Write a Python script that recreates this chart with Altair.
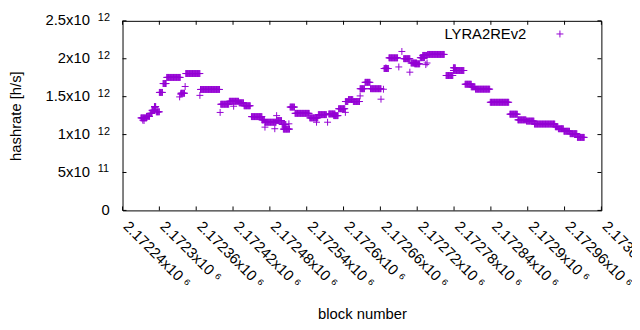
import altair as alt
import pandas as pd

# ---- data ----
# runs of consecutive blocks with the same hashrate (TH/s = 1e12 h/s)
run_start = [2172270, 2172279, 2172285, 2172288, 2172292, 2172295, 2172300, 2172306, 2172312,
             2172335, 2172343, 2172367, 2172400, 2172414, 2172430, 2172438, 2172450, 2172467,
             2172472, 2172491, 2172500, 2172502, 2172513, 2172521, 2172545, 2172559, 2172576,
             2172584, 2172592, 2172603, 2172608, 2172616, 2172627, 2172635, 2172644, 2172666,
             2172674, 2172698, 2172710, 2172716, 2172725, 2172729, 2172737, 2172767, 2172779,
             2172779, 2172798, 2172808, 2172815, 2172839, 2172871, 2172884, 2172898, 2172911,
             2172945, 2172950, 2172959, 2172969, 2172981]
run_end = [2172279, 2172284, 2172288, 2172292, 2172294, 2172300, 2172305, 2172311, 2172334,
           2172341, 2172366, 2172398, 2172413, 2172429, 2172437, 2172448, 2172467, 2172471,
           2172490, 2172499, 2172506, 2172512, 2172520, 2172544, 2172558, 2172572, 2172586,
           2172591, 2172602, 2172607, 2172615, 2172626, 2172634, 2172643, 2172661, 2172673,
           2172688, 2172708, 2172719, 2172724, 2172732, 2172736, 2172764, 2172778, 2172796,
           2172782, 2172808, 2172814, 2172838, 2172869, 2172883, 2172897, 2172910, 2172944,
           2172949, 2172958, 2172968, 2172980, 2172992]
run_value = [1.22, 1.24, 1.28, 1.32, 1.37, 1.30, 1.556, 1.673, 1.754,
             1.545, 1.805, 1.595, 1.400, 1.439, 1.419, 1.380, 1.237, 1.194,
             1.163, 1.185, 1.133, 1.072, 1.363, 1.280, 1.220, 1.263, 1.272,
             1.250, 1.341, 1.436, 1.462, 1.436, 1.605, 1.689, 1.605, 1.871,
             2.012, 2.001, 1.944, 1.933, 2.014, 2.044, 2.057, 1.779, 1.845,
             1.881, 1.664, 1.630, 1.599, 1.426, 1.269, 1.194, 1.178, 1.139,
             1.103, 1.077, 1.044, 1.012, 0.963]

# isolated blocks
single_block = [2172273, 2172275, 2172293, 2172333, 2172335, 2172342, 2172366, 2172399,
                2172421, 2172472, 2172488, 2172491, 2172511, 2172556, 2172574, 2172603,
                2172627, 2172661, 2172665, 2172669, 2172690, 2172695, 2172708, 2172734,
                2172736]
single_value = [1.19, 1.185, 1.358, 1.497, 1.532, 1.634, 1.517, 1.292,
                1.374, 1.098, 1.077, 1.250, 1.142, 1.163, 1.163, 1.293,
                1.510, 1.467, 1.598, 1.88, 1.892, 2.096, 1.823, 1.923,
                1.944]

x_tick_values = [2172240, 2172300, 2172360, 2172420, 2172480, 2172540, 2172600,
                 2172660, 2172720, 2172780, 2172840, 2172900, 2172960, 2173020]
x_tick_labels = ["2.17224x10 \u2076", "2.1723x10 \u2076", "2.17236x10 \u2076", "2.17242x10 \u2076",
                 "2.17248x10 \u2076", "2.17254x10 \u2076", "2.1726x10 \u2076", "2.17266x10 \u2076",
                 "2.17272x10 \u2076", "2.17278x10 \u2076", "2.17284x10 \u2076", "2.1729x10 \u2076",
                 "2.17296x10 \u2076", "2.17302x10 \u2076"]
y_tick_values = [0, 5e11, 1e12, 1.5e12, 2e12, 2.5e12]
y_tick_mantissa = ["0", "5x10", "1x10", "1.5x10", "2x10", "2.5x10"]
y_tick_exponent = ["", "11", "12", "12", "12", "12"]

series_name = "LYRA2REv2"

# ---- build tables ----
rows = []
for s, e, v in zip(run_start, run_end, run_value):
    for b in range(s, e + 1):
        rows.append({"block": b, "hashrate": v * 1e12})
for b, v in zip(single_block, single_value):
    rows.append({"block": b, "hashrate": v * 1e12})
df = pd.DataFrame(rows)

xt = pd.DataFrame({"block": x_tick_values, "label": x_tick_labels})
yt = pd.DataFrame({"hashrate": y_tick_values, "mant": y_tick_mantissa, "exp": y_tick_exponent})

W, H = 485, 192
FONT = "Liberation Sans"
COLOR = "#9400d3"
PLUS = "M-1,0L1,0M0,-1L0,1"
TICK = 4

xscale = alt.Scale(domain=[x_tick_values[0], x_tick_values[-1]], nice=False, zero=False)
yscale = alt.Scale(domain=[y_tick_values[0], y_tick_values[-1]], nice=False, zero=False)

points = alt.Chart(df).mark_point(
    shape=PLUS, size=49, filled=False, stroke=COLOR, strokeWidth=1, opacity=1
).encode(
    x=alt.X("block:Q", scale=xscale, axis=alt.Axis(
        values=x_tick_values, labels=False, ticks=False, domain=False, grid=False,
        title="block number", titleY=109, titleBaseline="alphabetic")),
    y=alt.Y("hashrate:Q", scale=yscale, axis=alt.Axis(
        values=y_tick_values, labels=False, ticks=False, domain=False, grid=False,
        title="hashrate [h/s]", titleX=-108, titleY=H / 2, titleAngle=270,
        titleAlign="center", titleBaseline="middle")),
)

tick_style = dict(color="black", strokeWidth=1)
bottom_ticks = alt.Chart(xt).mark_rule(**tick_style).encode(
    x=alt.X("block:Q", scale=xscale), y=alt.value(H), y2=alt.value(H - TICK))
top_ticks = alt.Chart(xt).mark_rule(**tick_style).encode(
    x=alt.X("block:Q", scale=xscale), y=alt.value(0), y2=alt.value(TICK))
left_ticks = alt.Chart(yt).mark_rule(**tick_style).encode(
    y=alt.Y("hashrate:Q", scale=yscale), x=alt.value(0), x2=alt.value(TICK))
right_ticks = alt.Chart(yt).mark_rule(**tick_style).encode(
    y=alt.Y("hashrate:Q", scale=yscale), x=alt.value(W - TICK), x2=alt.value(W))

x_labels = alt.Chart(xt).mark_text(
    angle=45, align="left", baseline="alphabetic", fontSize=15, font=FONT, color="black"
).encode(x=alt.X("block:Q", scale=xscale), y=alt.value(H + 17), text="label:N")

y_mant = alt.Chart(yt).transform_filter("datum.exp != ''").mark_text(
    align="right", baseline="alphabetic", dy=4.3, fontSize=15, font=FONT, color="black"
).encode(y=alt.Y("hashrate:Q", scale=yscale), x=alt.value(-33), text="mant:N")
y_zero = alt.Chart(yt).transform_filter("datum.exp == ''").mark_text(
    align="right", baseline="alphabetic", dy=4.3, fontSize=15, font=FONT, color="black"
).encode(y=alt.Y("hashrate:Q", scale=yscale), x=alt.value(-13), text="mant:N")
y_exp = alt.Chart(yt).transform_filter("datum.exp != ''").mark_text(
    align="left", baseline="alphabetic", dy=0, fontSize=11, font=FONT, color="black"
).encode(y=alt.Y("hashrate:Q", scale=yscale), x=alt.value(-25), text="exp:N")

leg = pd.DataFrame({"name": [series_name]})
legend_text = alt.Chart(leg).mark_text(
    align="right", baseline="alphabetic", fontSize=15, font=FONT, color="black"
).encode(text="name:N", x=alt.value(409), y=alt.value(18.7))
legend_sym = alt.Chart(leg).mark_point(
    shape=PLUS, size=49, filled=False, stroke=COLOR, strokeWidth=1, opacity=1
).encode(x=alt.value(443), y=alt.value(13.3))

chart = alt.layer(
    points, bottom_ticks, top_ticks, left_ticks, right_ticks,
    x_labels, y_mant, y_zero, y_exp, legend_text, legend_sym
).properties(
    width=W, height=H,
    autosize=alt.AutoSizeParams(type="none"),
    padding={"left": 116, "top": 11, "right": 31, "bottom": 110},
    background="white",
).configure_view(
    stroke="black", strokeWidth=1
).configure_axis(
    titleFont=FONT, titleFontSize=15, titleColor="black", titleFontWeight="normal",
)

chart.save("out.html", embed_options={"renderer": "svg", "actions": False})
